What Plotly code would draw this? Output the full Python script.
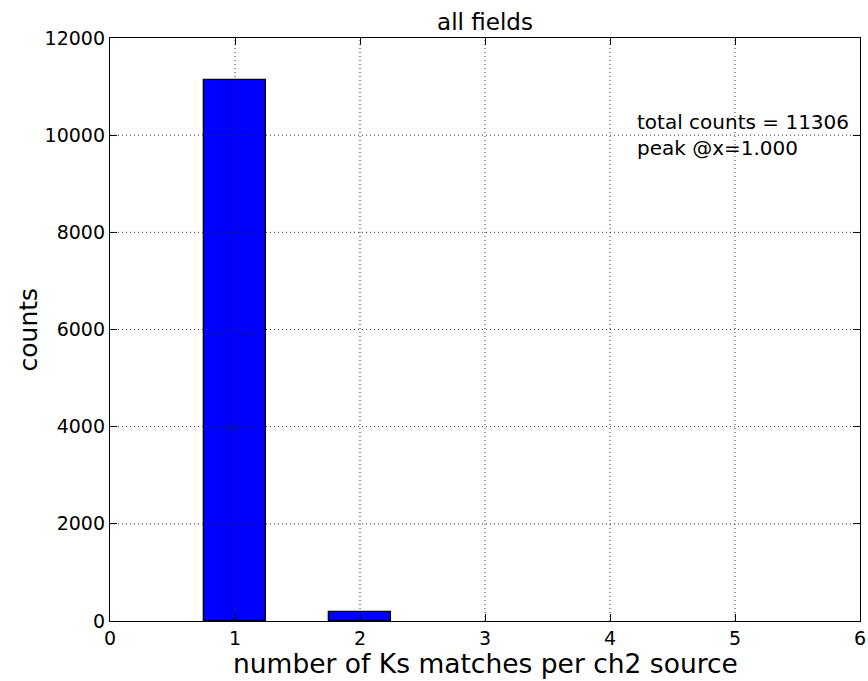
import plotly.graph_objects as go

# histogram of Ks matches per ch2 source
match_counts = [1, 2]
counts = [11128, 178]
x_ticks = [0, 1, 2, 3, 4, 5, 6]
y_ticks = [0, 2000, 4000, 6000, 8000, 10000, 12000]
total_counts = 11306
peak_x = 1.0

W, H = 868, 681
L, R, T, B = 110, 8, 38, 60
plot_w, plot_h = W - L - R, H - T - B

fig = go.Figure()
fig.add_trace(go.Bar(x=match_counts, y=counts, width=0.5,
                     marker=dict(color='#0000ff',
                                 line=dict(color='black', width=1.3))))

# matplotlib classic puts the dotted grid on top of the bars
grid = []
for t in x_ticks[1:-1]:
    grid.append(dict(type='line', xref='x', yref='paper', x0=t, x1=t,
                     y0=0, y1=1, layer='above',
                     line=dict(color='#333333', width=1, dash='1px,3px')))
for t in y_ticks[1:-1]:
    grid.append(dict(type='line', xref='paper', yref='y', x0=0, x1=1,
                     y0=t, y1=t, layer='above',
                     line=dict(color='#333333', width=1, dash='1px,3px')))

fig.add_annotation(x=4.2, y=10560, xref='x', yref='y',
                   xanchor='left', yanchor='top', align='left',
                   showarrow=False,
                   text='total counts = %d<br>peak @x=%.3f' % (total_counts, peak_x),
                   font=dict(size=20, color='black'))

# axis titles as annotations so they sit where matplotlib put them
fig.add_annotation(x=0.5, y=-42 / plot_h, xref='paper', yref='paper',
                   xanchor='center', yanchor='middle', showarrow=False,
                   text='number of Ks matches per ch2 source',
                   font=dict(size=26.5, color='black'))
fig.add_annotation(x=-82 / plot_w, y=0.5, xref='paper', yref='paper',
                   xanchor='center', yanchor='middle', showarrow=False,
                   textangle=-90, text='counts',
                   font=dict(size=25, color='black'))

axis_style = dict(showgrid=False, zeroline=False, showline=True,
                  linecolor='black', linewidth=1.3, mirror='allticks',
                  ticks='inside', ticklen=7, tickcolor='black',
                  automargin=False, ticklabeloverflow='allow',
                  tickfont=dict(size=19, color='black'))

fig.update_xaxes(range=[0, 6], tickvals=x_ticks,
                 ticktext=[str(t) for t in x_ticks], **axis_style)
fig.update_yaxes(range=[0, 12000], tickvals=y_ticks,
                 ticktext=[str(t) for t in y_ticks], **axis_style)

fig.update_layout(
    width=W, height=H,
    font=dict(family='DejaVu Sans', color='black'),
    title=dict(text='all fields', x=(L + plot_w / 2) / W, xanchor='center',
               y=1 - 22 / H, yanchor='middle', font=dict(size=23)),
    plot_bgcolor='white', paper_bgcolor='white',
    margin=dict(l=L, r=R, t=T, b=B, autoexpand=False),
    shapes=grid, showlegend=False, bargap=0)

# drop the page's default body margin so the figure fills the window
fig.write_html("out.html", config={'displayModeBar': False},
               post_script="document.body.style.margin='0';")
